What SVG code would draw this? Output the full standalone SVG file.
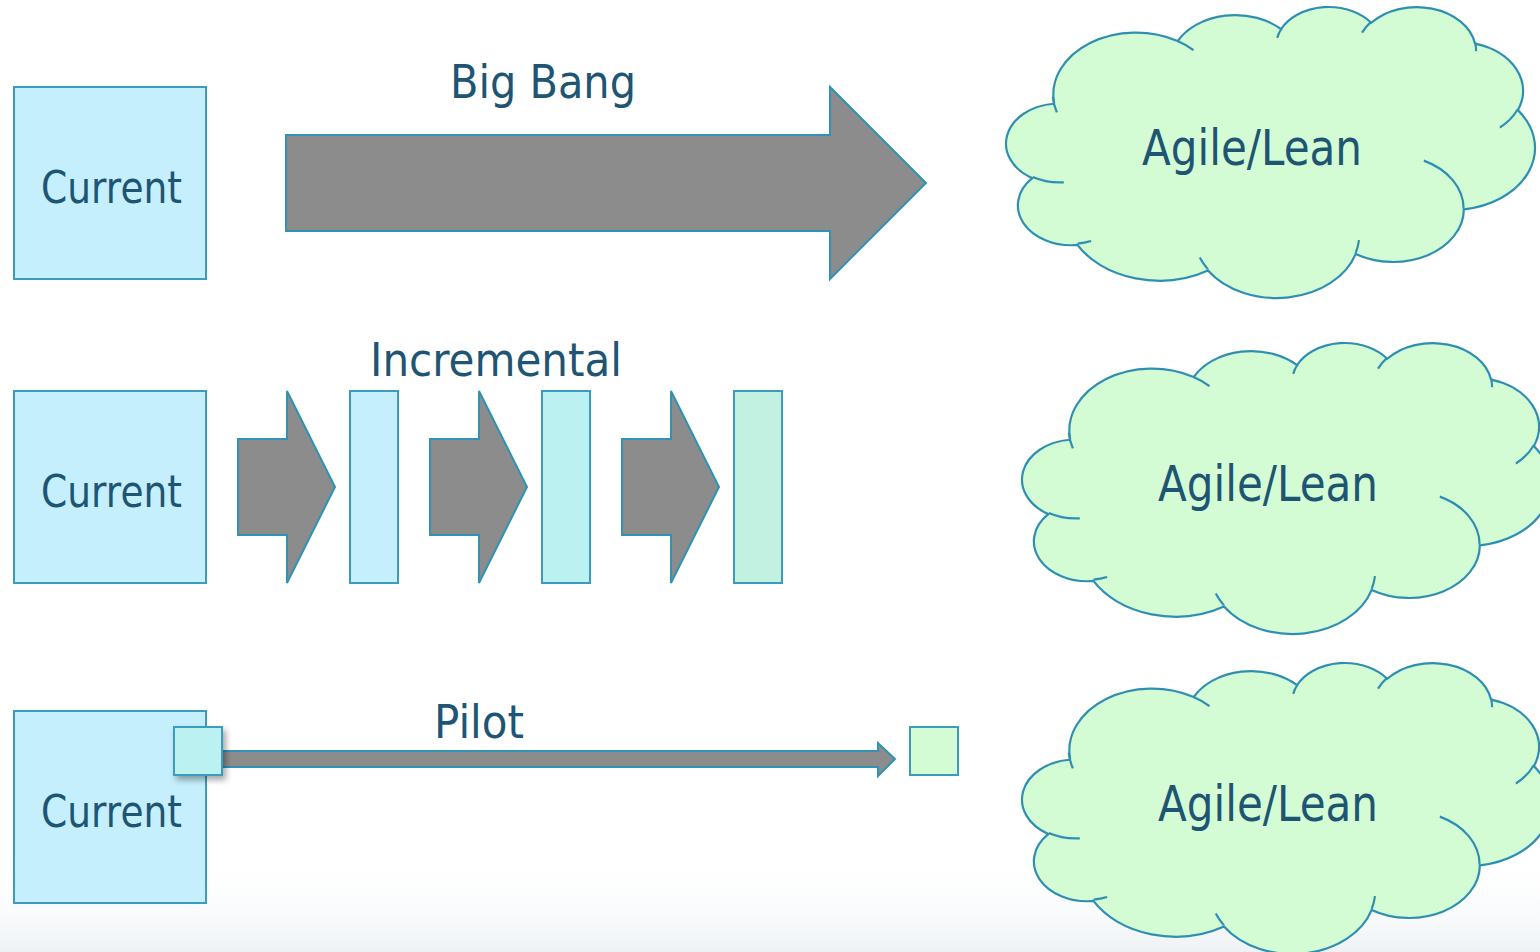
<svg xmlns="http://www.w3.org/2000/svg" width="1540" height="952" viewBox="0 0 1540 952">
<defs>
<style>
.box{fill:#c5effd;stroke:#3a9cbd;stroke-width:2}
.arr{fill:#8c8c8c;stroke:#2e93b5;stroke-width:2;stroke-linejoin:miter}
.cl{fill:#d4fcd4;stroke:#2e8fb3;stroke-width:2.2;vector-effect:non-scaling-stroke}
.cli{fill:none;stroke:#2e8fb3;stroke-width:2.2;vector-effect:non-scaling-stroke}
.t{font-family:"DejaVu Sans","Liberation Sans",sans-serif;fill:#1e5573}
</style>
<linearGradient id="bg" x1="0" y1="0" x2="0" y2="1">
<stop offset="0" stop-color="#ffffff" stop-opacity="0"/>
<stop offset="1" stop-color="#eef2f5" stop-opacity="1"/>
</linearGradient>
<filter id="sh" x="-30%" y="-30%" width="170%" height="170%">
<feDropShadow dx="3" dy="4" stdDeviation="3" flood-color="#000" flood-opacity="0.35"/>
</filter>
<path id="cloud" class="cl" d="M3900,14370 A6753,9190 0 0 1 14005.7,5202.6 A5333,7267 0 0 1 22456.6,3431 A4365,5945 0 0 1 29834.2,2480.2 A4857,6595 0 0 1 38319.8,5574.9 A5333,7273 0 0 1 41820.2,15458.8 A6775,9220 0 0 1 37405.1,30200.1 A5785,7867 0 0 1 28557.4,36810.9 A6752,9215 0 0 1 16482,39263.4 A7720,10543 0 0 1 5807.4,35474.6 A4360,5918 0 0 1 2116.7,25552.1 A4345,5945 0 0 1 3866.5,14508.4 Z"/>
<path id="cloudi" class="cli" d="M4693,26177 A4345,5945 0 0 1 2160.2,25380 M6928,34899 A4360,5918 0 0 1 5819.6,35280.4 M16478,39090 A6752,9215 0 0 1 15810,37349.1 M28827,34751 A6752,9215 0 0 1 28560.5,36659.4 M34129,22954 A5785,7867 0 0 1 37380.5,30089.7 M41798,15354 A5333,7273 0 0 1 40350.1,18029.8 M38324,5426 A4857,6595 0 0 1 38400.4,6689.4 M29078,3952 A4857,6595 0 0 1 29819.9,2339.2 M22141,4720 A4365,5945 0 0 1 22500,3330.6 M14000,5192 A6753,9190 0 0 1 15298.9,6539.4 M4127,15789 A6753,9190 0 0 1 3794.7,13455.5"/>
</defs>
<rect x="0" y="0" width="1540" height="952" fill="#ffffff"/>
<rect x="0" y="850" width="1540" height="102" fill="url(#bg)"/>

<g id="connectors">
<path id="bigbang-arrow" class="arr" d="M286,135 H830 V87 L926,183 L830,279 V231 H286 Z"/>
<path id="inc-arrow-1" class="arr" d="M238,439 H287 V391 L335,487 L287,583 V535 H238 Z"/>
<path id="inc-arrow-2" class="arr" d="M430,439 H479 V391 L527,487 L479,583 V535 H430 Z"/>
<path id="inc-arrow-3" class="arr" d="M622,439 H671 V391 L719,487 L671,583 V535 H622 Z"/>
<path id="pilot-arrow" class="arr" d="M218,751 H878 V743 L895,759 L878,776 V767 H218 Z"/>
</g>

<g id="label-bigbang"><text class="t" x="450" y="98" font-size="47" textLength="186" lengthAdjust="spacingAndGlyphs">Big Bang</text></g>
<g id="label-incremental"><text class="t" x="370" y="376" font-size="47" textLength="252" lengthAdjust="spacingAndGlyphs">Incremental</text></g>
<g id="label-pilot"><text class="t" x="434" y="738" font-size="47" textLength="90" lengthAdjust="spacingAndGlyphs">Pilot</text></g>

<g id="current-1">
<rect class="box" x="14" y="87" width="192" height="192"/>
<text class="t" x="41" y="203" font-size="44" textLength="141" lengthAdjust="spacingAndGlyphs">Current</text>
</g>
<g id="current-2">
<rect class="box" x="14" y="391" width="192" height="192"/>
<text class="t" x="41" y="507" font-size="44" textLength="141" lengthAdjust="spacingAndGlyphs">Current</text>
</g>
<g id="current-3">
<rect class="box" x="14" y="711" width="192" height="192"/>
<text class="t" x="41" y="827" font-size="44" textLength="141" lengthAdjust="spacingAndGlyphs">Current</text>
</g>

<g id="inc-step-1"><rect class="box" x="350" y="391" width="48" height="192"/></g>
<g id="inc-step-2"><rect class="box" x="542" y="391" width="48" height="192" style="fill:#bbf1f1"/></g>
<g id="inc-step-3"><rect class="box" x="734" y="391" width="48" height="192" style="fill:#c2f1e2"/></g>

<g id="pilot-start"><rect class="box" x="174" y="727" width="48" height="48" style="fill:#bbf1f1" filter="url(#sh)"/></g>
<g id="pilot-end"><rect class="box" x="910" y="727" width="48" height="48" style="fill:#d4fcd4"/></g>

<g id="cloud-1">
<g transform="translate(1006.4,6.06) scale(0.01223,0.006734)"><use href="#cloud"/><use href="#cloudi"/></g>
<text class="t" x="1142" y="165" font-size="50" textLength="220" lengthAdjust="spacingAndGlyphs">Agile/Lean</text>
</g>
<g id="cloud-2">
<g transform="translate(1022.4,342.06) scale(0.01223,0.006734)"><use href="#cloud"/><use href="#cloudi"/></g>
<text class="t" x="1158" y="501" font-size="50" textLength="220" lengthAdjust="spacingAndGlyphs">Agile/Lean</text>
</g>
<g id="cloud-3">
<g transform="translate(1022.4,662.06) scale(0.01223,0.006734)"><use href="#cloud"/><use href="#cloudi"/></g>
<text class="t" x="1158" y="821" font-size="50" textLength="220" lengthAdjust="spacingAndGlyphs">Agile/Lean</text>
</g>
</svg>
